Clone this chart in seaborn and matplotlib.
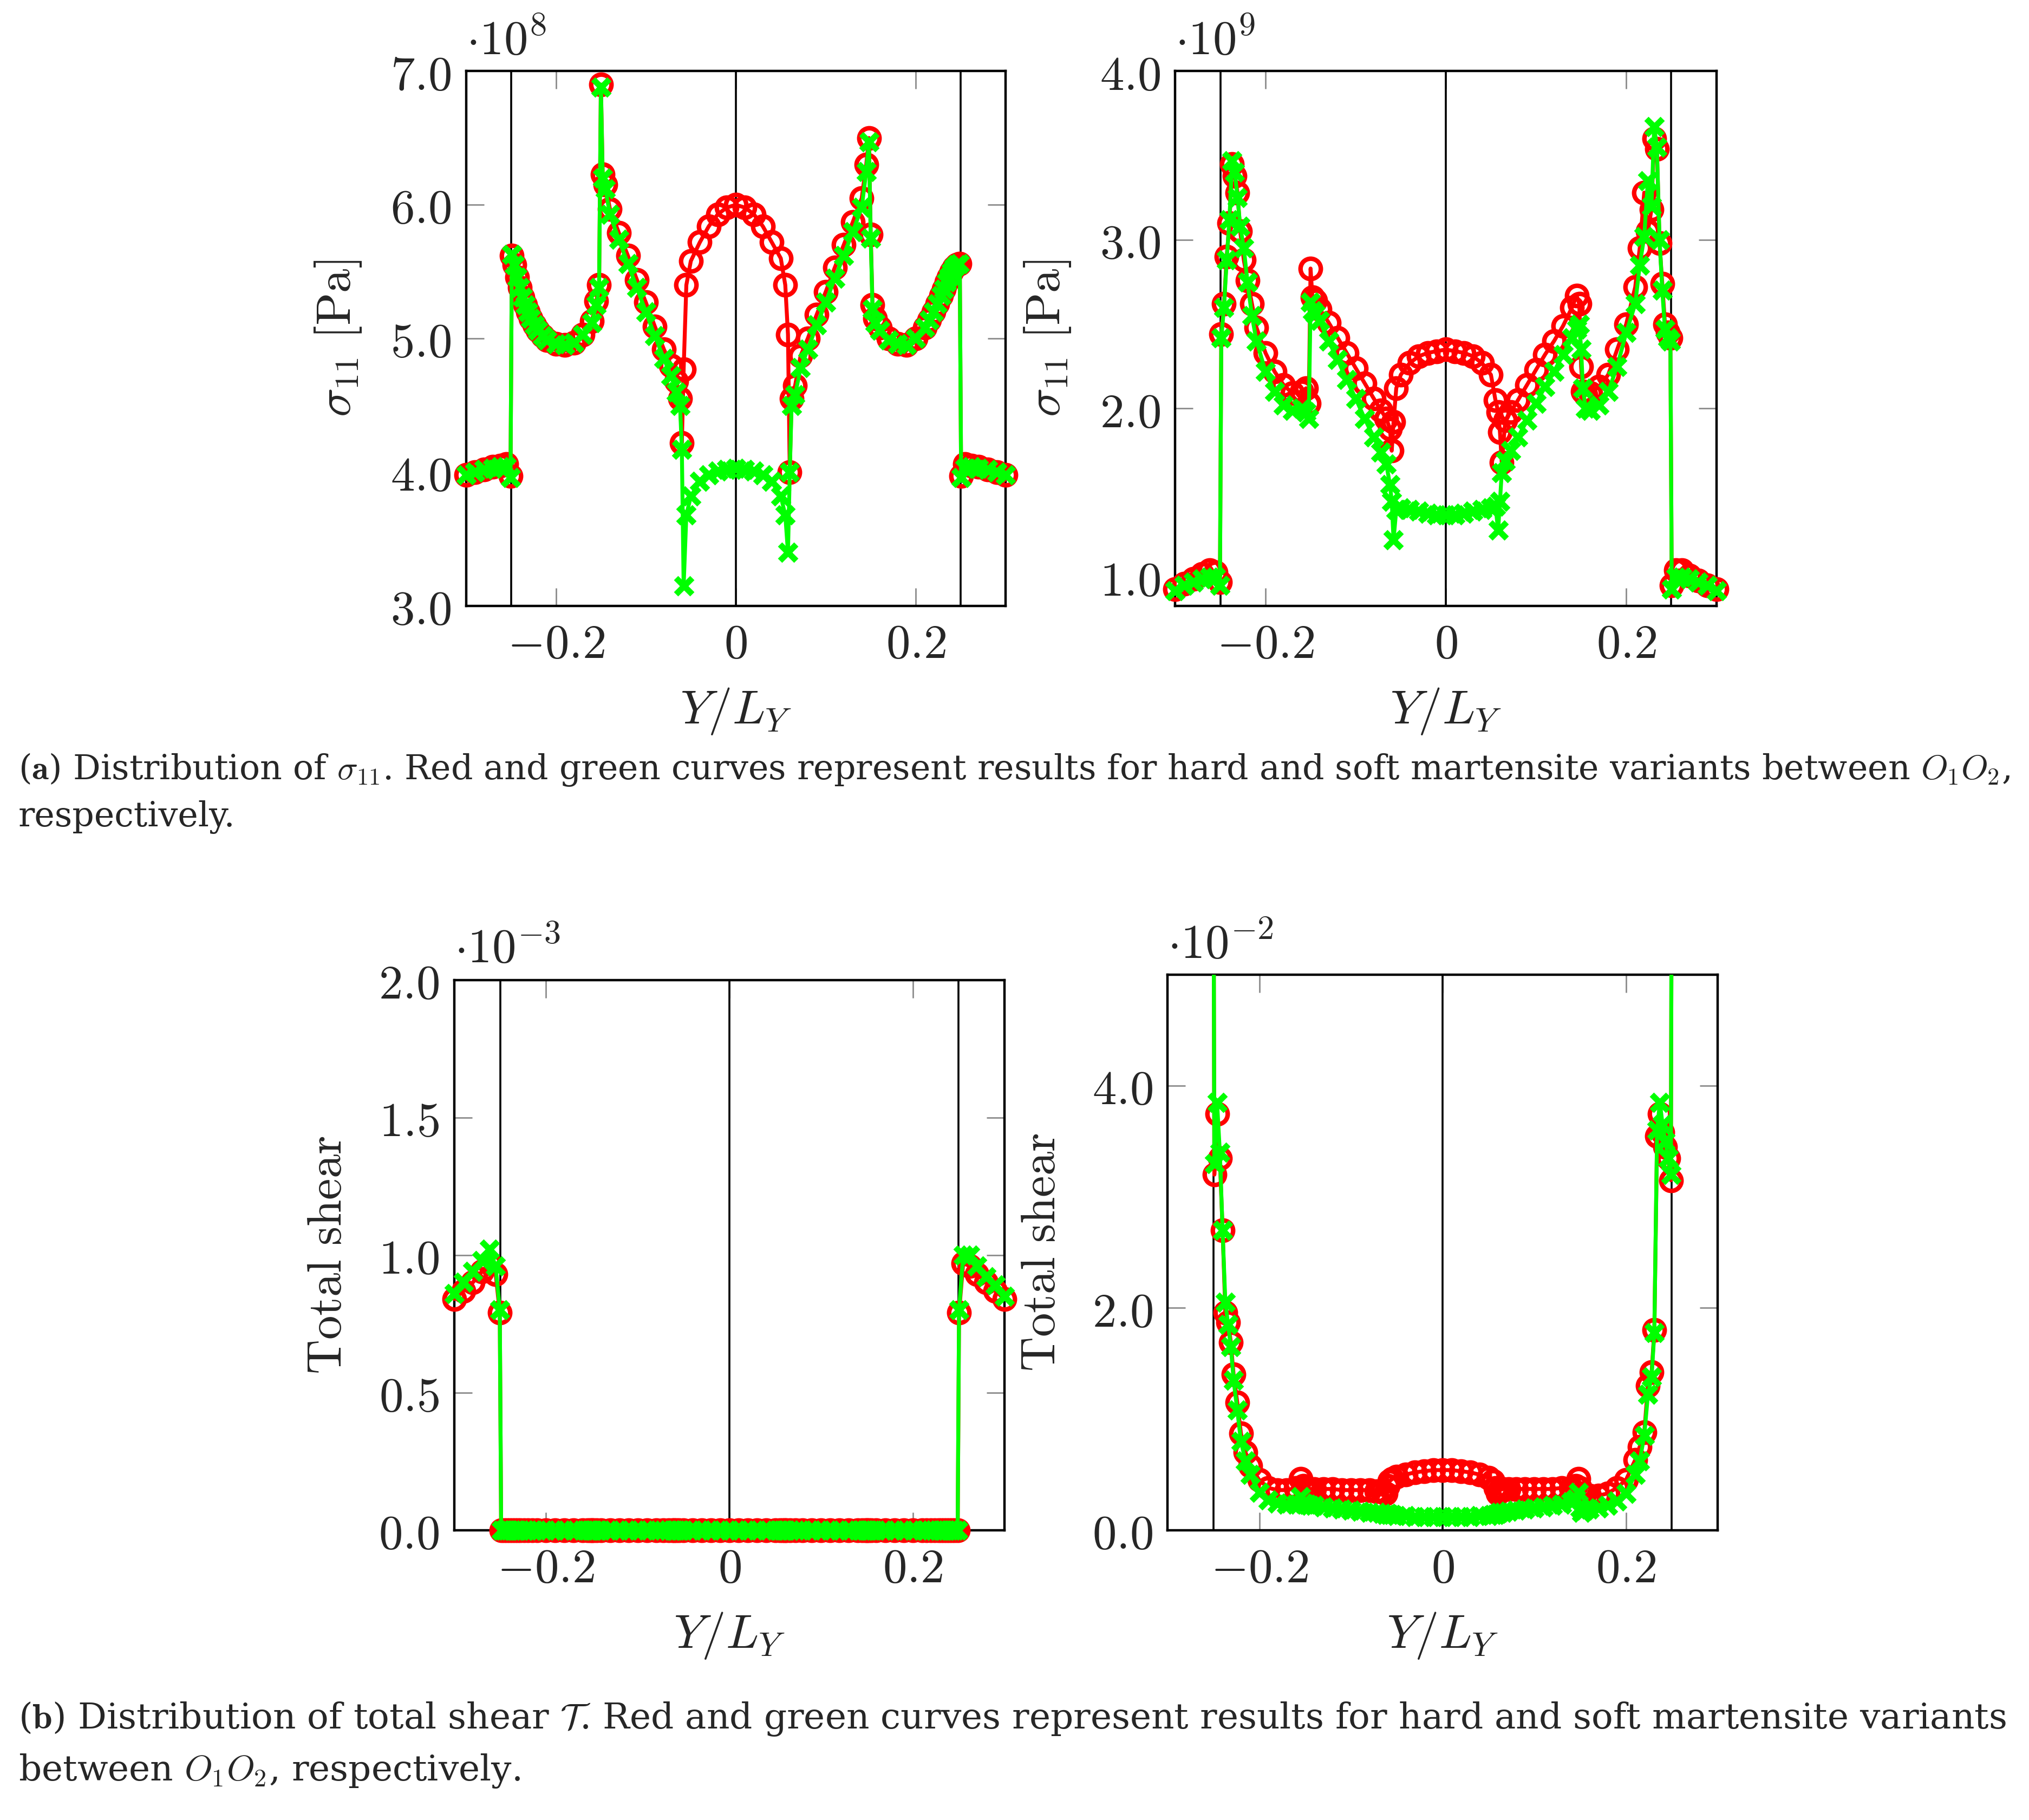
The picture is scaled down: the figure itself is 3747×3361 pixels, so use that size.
import seaborn as sns
import matplotlib.pyplot as plt
from matplotlib.ticker import FixedLocator, FuncFormatter

# Settings
sns.set_theme(style='ticks')
plt.rcParams['font.family'] = ['DejaVu Serif']
plt.rcParams['mathtext.fontset'] = 'cm'
plt.rcParams['axes.linewidth'] = 1.6
plt.rcParams['axes.edgecolor'] = 'black'

# Data: node positions Y/L_Y (shared by all four panels)
y_ly = [-0.300, -0.290, -0.280, -0.270, -0.262, -0.255, -0.2505,
        -0.249, -0.246, -0.243, -0.240, -0.237, -0.234, -0.231, -0.228, -0.224, -0.220,
        -0.215, -0.210, -0.200, -0.190, -0.180, -0.170, -0.160, -0.155, -0.152, -0.150,
        -0.148, -0.145, -0.140, -0.130, -0.120, -0.110, -0.100, -0.090, -0.080, -0.072,
        -0.066, -0.062, -0.060, -0.058, -0.055, -0.050, -0.040, -0.030, -0.020, -0.010,
        0.000,
        0.010, 0.020, 0.030, 0.040, 0.050, 0.055, 0.058, 0.060, 0.062, 0.066,
        0.072, 0.080, 0.090, 0.100, 0.110, 0.120, 0.130, 0.140, 0.145, 0.148,
        0.150, 0.152, 0.155, 0.160, 0.170, 0.180, 0.190, 0.200, 0.210, 0.215,
        0.220, 0.224, 0.228, 0.231, 0.234, 0.237, 0.240, 0.243, 0.246, 0.249,
        0.2505, 0.255, 0.262, 0.270, 0.280, 0.290, 0.300]

# sigma_11, panel 1 (x 1e8 Pa)
s11_a_hard = [3.98, 4.00, 4.02, 4.04, 4.05, 4.06, 3.97,
              5.62, 5.55, 5.46, 5.38, 5.31, 5.25, 5.20, 5.15, 5.10, 5.06,
              5.02, 4.99, 4.96, 4.95, 4.97, 5.03, 5.13, 5.28, 5.40, 6.90,
              6.23, 6.15, 5.97, 5.79, 5.62, 5.44, 5.27, 5.09, 4.92, 4.80,
              4.68, 4.55, 4.22, 4.77, 5.40, 5.58, 5.72, 5.84, 5.93, 5.98,
              6.00,
              5.98, 5.93, 5.84, 5.72, 5.60, 5.40, 5.03, 4.00, 4.55, 4.65,
              4.87, 5.00, 5.18, 5.35, 5.53, 5.70, 5.87, 6.05, 6.30, 6.50,
              5.78, 5.25, 5.15, 5.08, 5.00, 4.96, 4.95, 5.00, 5.08, 5.14,
              5.20, 5.26, 5.32, 5.37, 5.42, 5.46, 5.50, 5.53, 5.55, 5.56,
              3.97, 4.06, 4.05, 4.04, 4.02, 4.00, 3.98]
s11_a_soft = [3.98, 4.00, 4.02, 4.03, 4.04, 4.04, 3.96,
              5.63, 5.55, 5.46, 5.38, 5.31, 5.25, 5.20, 5.15, 5.10, 5.06,
              5.02, 4.99, 4.96, 4.95, 4.97, 5.03, 5.12, 5.25, 5.38, 6.88,
              6.20, 6.12, 5.93, 5.74, 5.56, 5.38, 5.20, 5.02, 4.85, 4.72,
              4.60, 4.50, 4.17, 3.15, 3.68, 3.82, 3.93, 3.98, 4.01, 4.02,
              4.03,
              4.02, 4.01, 3.98, 3.93, 3.82, 3.68, 3.40, 4.00, 4.50, 4.58,
              4.78, 4.92, 5.10, 5.27, 5.45, 5.62, 5.80, 5.98, 6.25, 6.47,
              5.75, 5.22, 5.12, 5.06, 4.99, 4.96, 4.95, 5.00, 5.08, 5.14,
              5.20, 5.26, 5.32, 5.37, 5.42, 5.46, 5.50, 5.53, 5.55, 5.56,
              3.96, 4.03, 4.04, 4.03, 4.02, 4.00, 3.98]

# sigma_11, panel 2 (x 1e9 Pa)
s11_b_hard = [0.93, 0.96, 0.99, 1.02, 1.04, 1.03, 0.97,
              2.44, 2.62, 2.90, 3.10, 3.45, 3.38, 3.28, 3.05, 2.88, 2.76,
              2.62, 2.48, 2.33, 2.22, 2.14, 2.09, 2.10, 2.12, 2.03, 2.83,
              2.66, 2.64, 2.59, 2.51, 2.42, 2.33, 2.24, 2.15, 2.06, 1.99,
              1.94, 1.88, 1.75, 1.92, 2.12, 2.20, 2.27, 2.31, 2.33, 2.34,
              2.35,
              2.34, 2.33, 2.31, 2.27, 2.20, 2.05, 1.98, 1.86, 1.68, 1.93,
              1.98, 2.05, 2.14, 2.23, 2.32, 2.40, 2.49, 2.60, 2.67, 2.62,
              2.25, 2.10, 2.08, 2.09, 2.13, 2.20, 2.35, 2.50, 2.72, 2.95,
              3.28, 3.05, 3.18, 3.60, 3.54, 2.98, 2.74, 2.50, 2.45, 2.42,
              0.95, 1.04, 1.04, 1.01, 0.98, 0.95, 0.93]
s11_b_soft = [0.92, 0.95, 0.97, 0.99, 1.00, 1.00, 0.95,
              2.42, 2.60, 2.88, 3.12, 3.47, 3.40, 3.25, 3.08, 2.95, 2.75,
              2.55, 2.40, 2.22, 2.10, 2.02, 1.99, 2.00, 1.98, 1.94, 2.63,
              2.58, 2.56, 2.52, 2.40, 2.29, 2.17, 2.06, 1.94, 1.83, 1.74,
              1.67, 1.55, 1.45, 1.22, 1.40, 1.41, 1.40, 1.39, 1.38, 1.37,
              1.37,
              1.37, 1.38, 1.39, 1.40, 1.41, 1.42, 1.28, 1.45, 1.62, 1.69,
              1.75, 1.83, 1.93, 2.03, 2.13, 2.22, 2.32, 2.42, 2.47, 2.50,
              2.35, 2.12, 2.00, 1.99, 2.02, 2.10, 2.25, 2.45, 2.62, 2.85,
              3.02, 3.35, 3.20, 3.67, 3.55, 3.00, 2.70, 2.47, 2.42, 2.40,
              0.93, 1.00, 1.00, 0.99, 0.97, 0.95, 0.92]

# total shear, panel 3 (x 1e-3)
shear_c_hard = [0.84, 0.87, 0.90, 0.94, 0.97, 0.93, 0.79,
                0.0, 0.0, 0.0, 0.0, 0.0, 0.0, 0.0, 0.0, 0.0, 0.0,
                0.0, 0.0, 0.0, 0.0, 0.0, 0.0, 0.0, 0.0, 0.0, 0.0,
                0.0, 0.0, 0.0, 0.0, 0.0, 0.0, 0.0, 0.0, 0.0, 0.0,
                0.0, 0.0, 0.0, 0.0, 0.0, 0.0, 0.0, 0.0, 0.0, 0.0,
                0.0,
                0.0, 0.0, 0.0, 0.0, 0.0, 0.0, 0.0, 0.0, 0.0, 0.0,
                0.0, 0.0, 0.0, 0.0, 0.0, 0.0, 0.0, 0.0, 0.0, 0.0,
                0.0, 0.0, 0.0, 0.0, 0.0, 0.0, 0.0, 0.0, 0.0, 0.0,
                0.0, 0.0, 0.0, 0.0, 0.0, 0.0, 0.0, 0.0, 0.0, 0.0,
                0.79, 0.97, 0.96, 0.93, 0.90, 0.87, 0.84]
shear_c_soft = [0.86, 0.90, 0.94, 0.98, 1.02, 0.96, 0.80,
                0.0, 0.0, 0.0, 0.0, 0.0, 0.0, 0.0, 0.0, 0.0, 0.0,
                0.0, 0.0, 0.0, 0.0, 0.0, 0.0, 0.0, 0.0, 0.0, 0.0,
                0.0, 0.0, 0.0, 0.0, 0.0, 0.0, 0.0, 0.0, 0.0, 0.0,
                0.0, 0.0, 0.0, 0.0, 0.0, 0.0, 0.0, 0.0, 0.0, 0.0,
                0.0,
                0.0, 0.0, 0.0, 0.0, 0.0, 0.0, 0.0, 0.0, 0.0, 0.0,
                0.0, 0.0, 0.0, 0.0, 0.0, 0.0, 0.0, 0.0, 0.0, 0.0,
                0.0, 0.0, 0.0, 0.0, 0.0, 0.0, 0.0, 0.0, 0.0, 0.0,
                0.0, 0.0, 0.0, 0.0, 0.0, 0.0, 0.0, 0.0, 0.0, 0.0,
                0.80, 1.00, 1.00, 0.96, 0.92, 0.89, 0.85]

# total shear, panel 4 (x 1e-2); outer values run off the top of the plot
shear_d_hard = [8.0, 8.0, 8.0, 8.0, 8.0, 8.0, 8.0,
                3.20, 3.75, 3.35, 2.70, 1.96, 1.87, 1.69, 1.40, 1.15, 0.87,
                0.70, 0.58, 0.45, 0.38, 0.36, 0.36, 0.38, 0.46, 0.40, 0.37,
                0.37, 0.37, 0.37, 0.37, 0.37, 0.36, 0.36, 0.36, 0.36, 0.35,
                0.35, 0.33, 0.40, 0.44, 0.46, 0.48, 0.50, 0.52, 0.53, 0.54,
                0.54,
                0.54, 0.53, 0.52, 0.50, 0.47, 0.44, 0.38, 0.33, 0.36, 0.37,
                0.37, 0.37, 0.37, 0.37, 0.37, 0.37, 0.38, 0.38, 0.40, 0.46,
                0.38, 0.33, 0.32, 0.31, 0.31, 0.33, 0.38, 0.45, 0.63, 0.75,
                0.88, 1.30, 1.42, 1.80, 3.55, 3.75, 3.58, 3.45, 3.35, 3.15,
                8.0, 8.0, 8.0, 8.0, 8.0, 8.0, 8.0]
shear_d_soft = [8.0, 8.0, 8.0, 8.0, 8.0, 8.0, 8.0,
                3.30, 3.85, 3.40, 2.70, 2.05, 1.85, 1.65, 1.35, 1.08, 0.80,
                0.62, 0.50, 0.34, 0.27, 0.24, 0.23, 0.23, 0.30, 0.24, 0.23,
                0.23, 0.22, 0.22, 0.21, 0.20, 0.19, 0.18, 0.17, 0.16, 0.16,
                0.15, 0.14, 0.15, 0.14, 0.14, 0.13, 0.13, 0.12, 0.12, 0.12,
                0.12,
                0.12, 0.12, 0.12, 0.13, 0.13, 0.14, 0.14, 0.15, 0.16, 0.16,
                0.17, 0.18, 0.19, 0.20, 0.21, 0.22, 0.23, 0.25, 0.28, 0.34,
                0.20, 0.16, 0.18, 0.19, 0.20, 0.22, 0.26, 0.33, 0.50, 0.62,
                0.85, 1.22, 1.38, 1.78, 3.60, 3.85, 3.65, 3.50, 3.35, 3.20,
                8.0, 8.0, 8.0, 8.0, 8.0, 8.0, 8.0]

x_ticks = [-0.2, 0.0, 0.2]
interfaces = [-0.25, 0.0, 0.25]

caption_a = [r'($\mathbf{a}$) Distribution of $\sigma_{11}$. Red and green curves represent results for hard and soft martensite variants between $O_1O_2$,',
             'respectively.']
caption_b = [r'($\mathbf{b}$) Distribution of total shear $\mathcal{T}$. Red and green curves represent results for hard and soft martensite variants',
             r'between $O_1O_2$, respectively.']


# Functions
def panel(ax, hard, soft, ylim, yticks, ylabel, mult, clip):
    for xv in interfaces:
        ax.axvline(xv, color='black', lw=1.3, zorder=1)
    sns.lineplot(x=y_ly, y=hard, ax=ax, sort=False, estimator=None,
                 color='red', lw=2.6, marker='o', markersize=13.5,
                 markerfacecolor='none', markeredgecolor='red',
                 markeredgewidth=3.0, zorder=2, clip_on=clip)
    sns.lineplot(x=y_ly, y=soft, ax=ax, sort=False, estimator=None,
                 color='#00ff00', lw=2.6, marker='x', markersize=11,
                 markeredgecolor='#00ff00', markeredgewidth=4.0, zorder=3,
                 clip_on=clip)
    ax.set_xlim(-0.3, 0.3)
    ax.set_ylim(*ylim)
    ax.xaxis.set_major_locator(FixedLocator(x_ticks))
    ax.yaxis.set_major_locator(FixedLocator(yticks))
    ax.xaxis.set_major_formatter(FuncFormatter(
        lambda v, p: '$0$' if abs(v) < 1e-9 else '$%.1f$' % v))
    ax.yaxis.set_major_formatter(FuncFormatter(lambda v, p: '$%.1f$' % v))
    ax.tick_params(direction='in', length=12, width=1.0, color='#8c8c8c',
                   top=True, right=True, labelsize=32, pad=10)
    ax.tick_params(axis='x', pad=10)
    ax.set_xlabel(r'$Y/L_Y$', fontsize=32, labelpad=12)
    ax.set_ylabel(ylabel, fontsize=32, labelpad=18)
    ax.text(0.0, 1.012, r'$\cdot 10^{%s}$' % mult, transform=ax.transAxes,
            fontsize=32, ha='left', va='bottom')
    for s in ax.spines.values():
        s.set_visible(True)
        s.set_linewidth(1.6)
        s.set_color('black')
        s.set_zorder(1.5)


def caption(lines, ys, width, size=23.0):
    texts = [fig.text(0.009, y, t, fontsize=size, va='center')
             for t, y in zip(lines, ys)]
    # fit the first line to the width it has in the reference
    r = fig.canvas.get_renderer()
    w = texts[0].get_window_extent(renderer=r).width / fig.bbox.width
    for t in texts:
        t.set_fontsize(size * width / w)


# Main
fig = plt.figure(figsize=(18.74, 16.805), dpi=200)
ax_a = fig.add_axes([0.2296, 0.6671, 0.2659, 0.2938])
ax_b = fig.add_axes([0.5791, 0.6671, 0.2666, 0.2938])
ax_c = fig.add_axes([0.2239, 0.1593, 0.2710, 0.3023])
ax_d = fig.add_axes([0.5753, 0.1593, 0.2710, 0.3051])

sig_label = r'$\sigma_{11}\ \mathrm{[Pa]}$'
shear_label = r'$\mathrm{Total\ shear}$'
panel(ax_a, s11_a_hard, s11_a_soft, (3.0, 7.0), [3, 4, 5, 6, 7], sig_label, '8', False)
panel(ax_b, s11_b_hard, s11_b_soft, (0.83, 4.0), [1, 2, 3, 4], sig_label, '9', False)
panel(ax_c, shear_c_hard, shear_c_soft, (0.0, 2.0), [0, 0.5, 1.0, 1.5, 2.0], shear_label, '-3', False)
panel(ax_d, shear_d_hard, shear_d_soft, (0.0, 5.0), [0, 2, 4], shear_label, '-2', True)

caption(caption_a, [0.577, 0.551], 0.982)
caption(caption_b, [0.0555, 0.027], 0.980)

plt.savefig('out.png', dpi=200)
print('Successfully completed')
